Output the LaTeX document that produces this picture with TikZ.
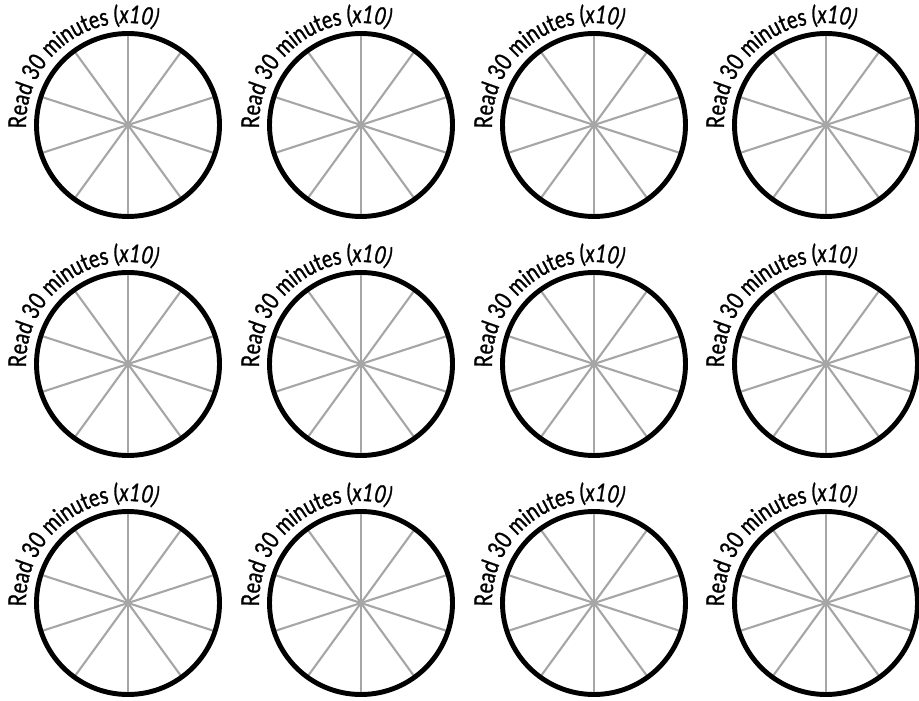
\documentclass[tikz,border=0pt]{standalone}
\usepackage{fontspec}
\setmainfont{Lato}[FakeStretch=0.80, FakeBold=1]
\usepackage{tikz}
\usetikzlibrary{calc, decorations.text}
\usepackage{xcolor}

\begin{document}
\fontsize{14}{16}\selectfont
\begin{tikzpicture}[
  x=0.02cm, y=0.02cm,
  rim/.style={draw=black, line width=2.8pt},
  spoke/.style={draw=black!35, line width=1.2pt},
  label/.style={decorate, decoration={text along path, text align=left,
    text={Read 30 minutes (|\itshape|x10)}}},
]
  \useasboundingbox (0,0) rectangle (919,700);
  \foreach \r/\y in {1/575, 2/336, 3/97} {
    \foreach \c/\x in {1/128, 2/361, 3/594, 4/826} {
      \coordinate (o-\r-\c) at (\x,\y);
      % ten spokes, one every 36 degrees
      \foreach \a in {18, 54, ..., 342}
        \draw[spoke] (o-\r-\c) -- ($(o-\r-\c)+(\a:90)$);
      \draw[spoke] (o-\r-\c) -- ($(o-\r-\c)+(90:90)$);
      \draw[spoke] (o-\r-\c) -- ($(o-\r-\c)+(270:90)$);
      \draw[rim] (o-\r-\c) circle[radius=91.5];
      \path[label] ($(o-\r-\c)+(182:102)$) arc[start angle=182, end angle=55, radius=102];
    }
  }
\end{tikzpicture}
\end{document}
